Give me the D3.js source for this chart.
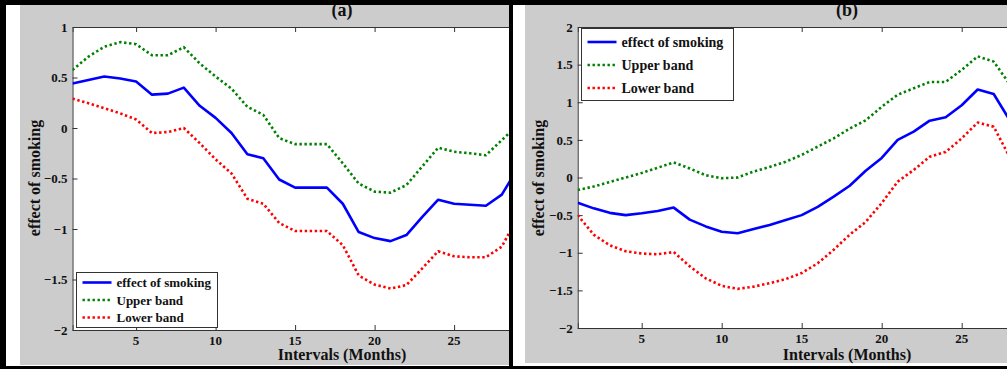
<!DOCTYPE html>
<html>
<head>
<meta charset="utf-8">
<script src="https://cdn.jsdelivr.net/npm/d3@7"></script>
<style>
  html, body { margin: 0; padding: 0; background: #fff; }
  svg { display: block; }
  text { font-family: "Liberation Serif", "Times New Roman", serif; font-weight: bold; fill: #111; }
</style>
</head>
<body>
<div id="chart"></div>
<script>
const months = d3.range(1, 30);

// panel (a)
const effectA = [0.44, 0.475, 0.51, 0.49, 0.46, 0.33, 0.34, 0.40, 0.22, 0.10, -0.05, -0.26, -0.30, -0.51, -0.59,
  -0.59, -0.59, -0.75, -1.03, -1.09, -1.12, -1.06, -0.88, -0.71, -0.75, -0.76, -0.77, -0.66, -0.40];
const upperA = [0.574, 0.706, 0.805, 0.85, 0.83, 0.72, 0.72, 0.80, 0.64, 0.51, 0.39, 0.21, 0.13, -0.10, -0.16,
  -0.16, -0.16, -0.35, -0.55, -0.63, -0.64, -0.565, -0.38, -0.195, -0.235, -0.25, -0.27, -0.12, 0.03];
const lowerA = [0.29, 0.245, 0.195, 0.145, 0.085, -0.05, -0.04, 0.0, -0.15, -0.31, -0.45, -0.70, -0.75, -0.94, -1.02,
  -1.02, -1.02, -1.16, -1.46, -1.55, -1.59, -1.555, -1.39, -1.22, -1.27, -1.28, -1.28, -1.175, -0.88];

// panel (b)
const effectB = [-0.335, -0.41, -0.47, -0.50, -0.476, -0.445, -0.40, -0.56, -0.65, -0.72, -0.74, -0.685, -0.63, -0.565, -0.50,
  -0.39, -0.255, -0.11, 0.09, 0.26, 0.50, 0.61, 0.755, 0.80, 0.96, 1.17, 1.11, 0.76, 0.40];
const upperB = [-0.166, -0.12, -0.06, 0.0, 0.06, 0.13, 0.20, 0.12, 0.03, -0.01, 0.0, 0.08, 0.14, 0.21, 0.30,
  0.41, 0.52, 0.65, 0.76, 0.94, 1.10, 1.185, 1.27, 1.27, 1.43, 1.61, 1.54, 1.24, 0.90];
const lowerB = [-0.50, -0.76, -0.90, -0.98, -1.01, -1.02, -0.99, -1.18, -1.34, -1.44, -1.48, -1.45, -1.405, -1.35, -1.27,
  -1.14, -0.96, -0.76, -0.59, -0.34, -0.055, 0.10, 0.275, 0.34, 0.52, 0.73, 0.675, 0.27, -0.10];

const xTicks = [5, 10, 15, 20, 25, 30];
const yTicksA = [-2, -1.5, -1, -0.5, 0, 0.5, 1];
const yTicksB = [-2, -1.5, -1, -0.5, 0, 0.5, 1, 1.5, 2];
const seriesNames = ['effect of smoking', 'Upper band', 'Lower band'];

const W = 1007, H = 369;
const svg = d3.select('#chart').append('svg').attr('width', W).attr('height', H);

const styles = [
  { color: '#0000ff', width: 2.6, dash: null },
  { color: '#008000', width: 2.6, dash: '2.4,2.6' },
  { color: '#ff0000', width: 2.6, dash: '2.4,2.6' },
];

function panel(cfg) {
  const g = svg.append('g');
  g.append('rect').attr('x', cfg.bg[0]).attr('y', cfg.bg[1]).attr('width', cfg.bg[2]).attr('height', cfg.bg[3])
    .attr('fill', '#cccccc');

  const x = d3.scaleLinear().domain([1, 30]).range([cfg.left, cfg.left + 29 * cfg.xStep]);
  const y = d3.scaleLinear().domain(cfg.yDomain).range([cfg.bottom, cfg.top]);
  const right = cfg.clipRight;

  const id = 'clip' + cfg.name;
  g.append('clipPath').attr('id', id).append('rect')
    .attr('x', cfg.left).attr('y', cfg.top - 3).attr('width', right - cfg.left).attr('height', cfg.bottom - cfg.top + 6);

  g.append('rect').attr('x', cfg.left).attr('y', cfg.top).attr('width', right - cfg.left).attr('height', cfg.bottom - cfg.top)
    .attr('fill', '#fff');

  const axes = g.append('g').attr('clip-path', `url(#${id})`);
  const xb = axes.append('g').attr('transform', `translate(0,${cfg.bottom})`)
    .call(d3.axisBottom(x).tickValues(xTicks).tickSize(-5).tickFormat(''));
  const xt = axes.append('g').attr('transform', `translate(0,${cfg.top})`)
    .call(d3.axisTop(x).tickValues(xTicks).tickSize(-5).tickFormat(''));
  [xb, xt].forEach(a => { a.select('.domain').attr('stroke', '#333'); a.selectAll('line').attr('stroke', '#333'); });

  const yl = g.append('g').attr('transform', `translate(${cfg.left},0)`)
    .call(d3.axisLeft(y).tickValues(cfg.yTicks).tickSize(-5).tickPadding(5).tickFormat(d3.format('')));
  yl.select('.domain').attr('stroke', '#333');
  yl.selectAll('line').attr('stroke', '#333');
  yl.selectAll('text').attr('font-size', 13).attr('fill', '#111');

  // x tick labels (outside the clip)
  g.append('g').selectAll('text').data(xTicks.filter(d => x(d) < right)).enter().append('text')
    .attr('x', d => x(d)).attr('y', cfg.bottom + 15).attr('text-anchor', 'middle').attr('font-size', 13)
    .text(d => d);

  const line = d3.line().x((d, i) => x(months[i])).y(d => y(d));
  const plot = g.append('g').attr('clip-path', `url(#${id})`);
  cfg.series.forEach((s, i) => {
    plot.append('path').datum(s).attr('d', line).attr('fill', 'none')
      .attr('stroke', styles[i].color).attr('stroke-width', styles[i].width)
      .attr('stroke-dasharray', styles[i].dash).attr('stroke-linejoin', 'round');
  });

  g.append('text').attr('x', cfg.titleX).attr('y', 16).attr('text-anchor', 'middle').attr('font-size', 18).text(cfg.title);
  g.append('text').attr('x', cfg.titleX).attr('y', 360).attr('text-anchor', 'middle').attr('font-size', 16)
    .text('Intervals (Months)');
  g.append('text').attr('transform', `translate(${cfg.ylabX},178) rotate(-90)`).attr('text-anchor', 'middle')
    .attr('font-size', 16).text('effect of smoking');

  // legend
  const L = cfg.legend;
  const lg = g.append('g');
  lg.append('rect').attr('x', L.x).attr('y', L.y).attr('width', L.w).attr('height', L.h)
    .attr('fill', '#fff').attr('stroke', '#333').attr('stroke-width', 1);
  seriesNames.forEach((n, i) => {
    const ry = L.y + L.first + i * L.gap;
    lg.append('line').attr('x1', L.x + 6).attr('x2', L.x + 35).attr('y1', ry).attr('y2', ry)
      .attr('stroke', styles[i].color).attr('stroke-width', styles[i].width).attr('stroke-dasharray', styles[i].dash);
    lg.append('text').attr('x', L.x + 40).attr('y', ry).attr('dy', '0.35em').attr('font-size', L.fs).text(n);
  });
}

panel({
  name: 'a', title: '(a)', bg: [20, 5, 489, 360], left: 72.5, xStep: 15.9, top: 27, bottom: 330, clipRight: 509,
  yDomain: [-2, 1], yTicks: yTicksA, titleX: 342, ylabX: 40,
  series: [effectA, upperA, lowerA],
  legend: { x: 76.5, y: 272.5, w: 141, h: 55, first: 10, gap: 17.5, fs: 13 }
});
panel({
  name: 'b', title: '(b)', bg: [525, 5, 482, 358], left: 577.7, xStep: 16, top: 27, bottom: 328, clipRight: 1007,
  yDomain: [-2, 2], yTicks: yTicksB, titleX: 847, ylabX: 544,
  series: [effectB, upperB, lowerB],
  legend: { x: 581.5, y: 28.5, w: 152, h: 72, first: 13.5, gap: 23, fs: 14 }
});

// black frame
const frame = [[0, 0, W, 5], [0, 0, 6, H], [0, 366, W, 3], [509, 0, 4, H]];
svg.append('g').selectAll('rect').data(frame).enter().append('rect')
  .attr('x', d => d[0]).attr('y', d => d[1]).attr('width', d => d[2]).attr('height', d => d[3]).attr('fill', '#000');
</script>
</body>
</html>
